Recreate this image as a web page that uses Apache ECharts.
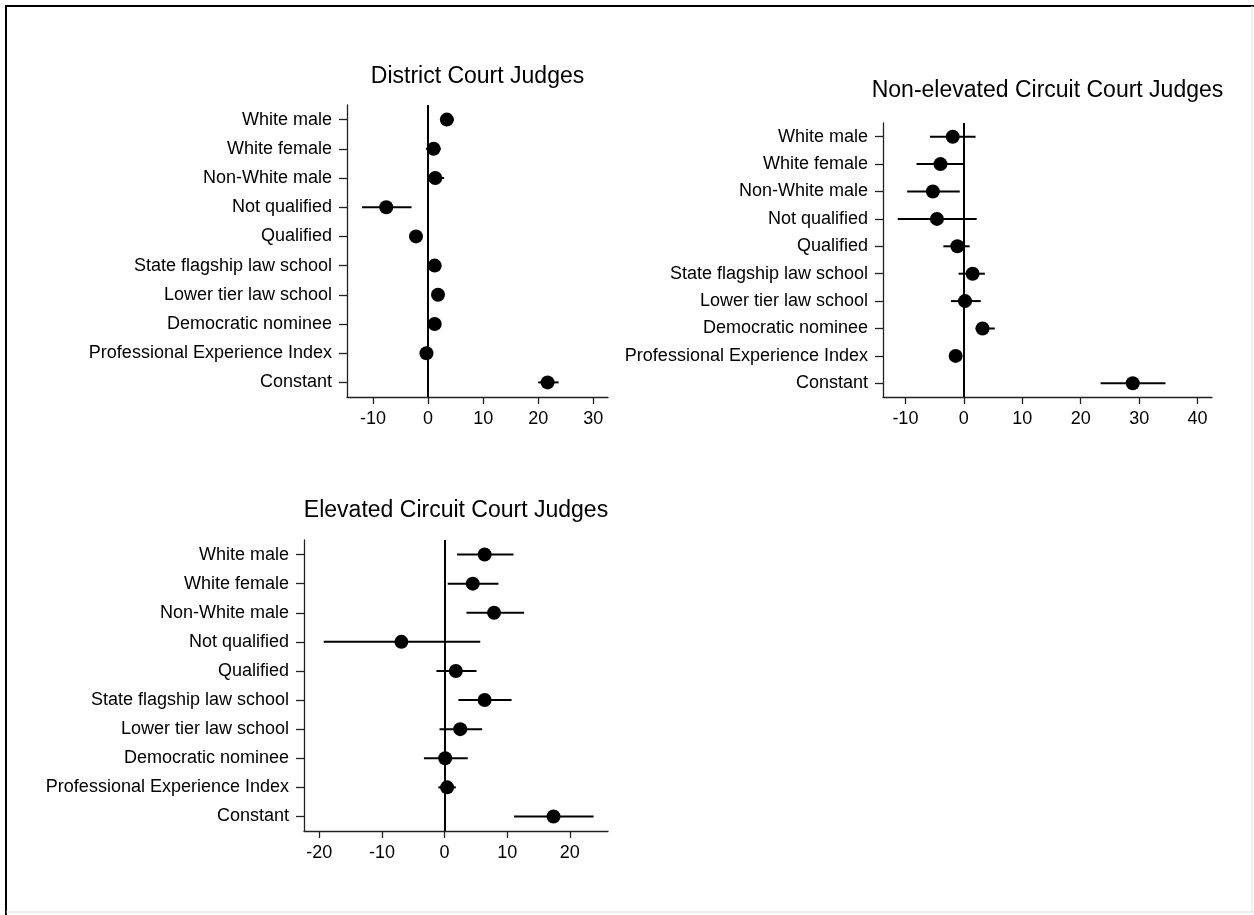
<!DOCTYPE html>
<html>
<head>
<meta charset="utf-8">
<script src="https://cdn.jsdelivr.net/npm/echarts@6/dist/echarts.min.js"></script>
<style>
  html, body { margin: 0; padding: 0; background: #fff; }
  #chart { width: 1254px; height: 915px; }
</style>
</head>
<body>
<div id="chart"></div>
<script>
// ---- Data ----
const categories = ["White male", "White female", "Non-White male", "Not qualified", "Qualified",
  "State flagship law school", "Lower tier law school", "Democratic nominee",
  "Professional Experience Index", "Constant"];

const panelTitles = ["District Court Judges", "Non-elevated Circuit Court Judges", "Elevated Circuit Court Judges"];

const districtEst = [3.4, 1.0, 1.3, -7.6, -2.2, 1.2, 1.8, 1.2, -0.3, 21.7];
const districtLo  = [2.3, -0.4, 0.3, -12.0, -3.0, 0.4, 1.0, 0.4, -0.8, 20.0];
const districtHi  = [4.7, 2.3, 2.9, -3.0, -1.4, 2.0, 2.6, 2.0, 0.2, 23.7];

const nonElevEst = [-1.9, -4.0, -5.3, -4.6, -1.1, 1.5, 0.2, 3.2, -1.4, 28.9];
const nonElevLo  = [-5.8, -8.1, -9.7, -11.3, -3.5, -0.9, -2.2, 2.0, -2.0, 23.4];
const nonElevHi  = [2.0, 0.0, -0.7, 2.2, 1.0, 3.6, 2.9, 5.3, -0.8, 34.5];

const elevEst = [6.4, 4.5, 7.9, -6.9, 1.8, 6.4, 2.5, 0.1, 0.4, 17.4];
const elevLo  = [2.0, 0.5, 3.5, -19.3, -1.3, 2.2, -0.8, -3.3, -1.0, 11.1];
const elevHi  = [11.0, 8.6, 12.7, 5.7, 5.1, 10.7, 6.0, 3.7, 1.8, 23.8];

const districtTicks = [-10, 0, 10, 20, 30];
const nonElevTicks  = [-10, 0, 10, 20, 30, 40];
const elevTicks     = [-20, -10, 0, 10, 20];

// ---- Layout ----
const FONT = "'Liberation Sans', Arial, Helvetica, sans-serif";
const panels = [
  { est: districtEst, lo: districtLo, hi: districtHi, ticks: districtTicks, min: -14.73, max: 32.67,
    grid: { left: 347, top: 105, width: 261, height: 292 }, titleY: 65 },
  { est: nonElevEst, lo: nonElevLo, hi: nonElevHi, ticks: nonElevTicks, min: -13.83, max: 42.46,
    grid: { left: 883, top: 123, width: 329, height: 274 }, titleY: 79 },
  { est: elevEst, lo: elevLo, hi: elevHi, ticks: elevTicks, min: -22.45, max: 26.1,
    grid: { left: 304, top: 540, width: 304, height: 291 }, titleY: 499 }
];

const grids = [], xAxes = [], yAxes = [], series = [], titles = [];
panels.forEach((p, i) => {
  grids.push(Object.assign({ containLabel: false }, p.grid));
  titles.push({
    text: panelTitles[i],
    left: p.grid.left + p.grid.width / 2,
    top: p.titleY,
    textAlign: 'center',
    padding: 0,
    textStyle: { fontFamily: FONT, fontSize: 23, fontWeight: 'normal', color: '#000' }
  });
  xAxes.push({
    type: 'value', gridIndex: i, min: p.min, max: p.max,
    axisLine: { show: true, onZero: false, lineStyle: { color: '#222', width: 1.3 } },
    axisTick: { show: true, length: 7, lineStyle: { color: '#222', width: 1.3 }, customValues: p.ticks },
    axisLabel: { fontFamily: FONT, fontSize: 18, color: '#000', margin: 13, customValues: p.ticks },
    splitLine: { show: false }
  });
  yAxes.push({
    type: 'category', gridIndex: i, data: categories, inverse: true,
    axisLine: { show: true, onZero: false, lineStyle: { color: '#222', width: 1.3 } },
    axisTick: { show: true, alignWithLabel: true, length: 8, lineStyle: { color: '#222', width: 1.3 } },
    axisLabel: { fontFamily: FONT, fontSize: 18, color: '#000', margin: 15, interval: 0 },
    splitLine: { show: false }
  });
  series.push({
    type: 'custom', xAxisIndex: i, yAxisIndex: i, silent: true,
    encode: { x: [1, 2], y: 0 },
    data: categories.map((c, k) => [k, p.lo[k], p.hi[k]]),
    renderItem: function (params, api) {
      const a = api.coord([api.value(1), api.value(0)]);
      const b = api.coord([api.value(2), api.value(0)]);
      return { type: 'line', shape: { x1: a[0], y1: a[1], x2: b[0], y2: b[1] },
        style: { stroke: '#000', lineWidth: 2 } };
    },
    z: 2
  });
  series.push({
    type: 'scatter', xAxisIndex: i, yAxisIndex: i, silent: true,
    symbol: 'circle', symbolSize: 14,
    itemStyle: { color: '#000', opacity: 1 },
    data: categories.map((c, k) => [p.est[k], k]),
    z: 3,
    markLine: {
      silent: true, symbol: 'none', label: { show: false },
      lineStyle: { color: '#000', width: 2, type: 'solid', opacity: 1 },
      data: [{ xAxis: 0 }],
      z: 1
    }
  });
});

const chart = echarts.init(document.getElementById('chart'), null, { renderer: 'canvas' });
chart.setOption({
  animation: false,
  backgroundColor: '#fff',
  title: titles,
  grid: grids,
  xAxis: xAxes,
  yAxis: yAxes,
  series: series,
  graphic: [
    { type: 'line', shape: { x1: 5, y1: 6, x2: 1254, y2: 6 }, style: { stroke: '#000', lineWidth: 2 }, silent: true },
    { type: 'line', shape: { x1: 6, y1: 5, x2: 6, y2: 915 }, style: { stroke: '#000', lineWidth: 2 }, silent: true },
    { type: 'line', shape: { x1: 6, y1: 912, x2: 1254, y2: 912 }, style: { stroke: '#ddd', lineWidth: 1 }, silent: true },
    { type: 'line', shape: { x1: 1252, y1: 6, x2: 1252, y2: 912 }, style: { stroke: '#e5e5e5', lineWidth: 1 }, silent: true }
  ]
});
</script>
</body>
</html>
